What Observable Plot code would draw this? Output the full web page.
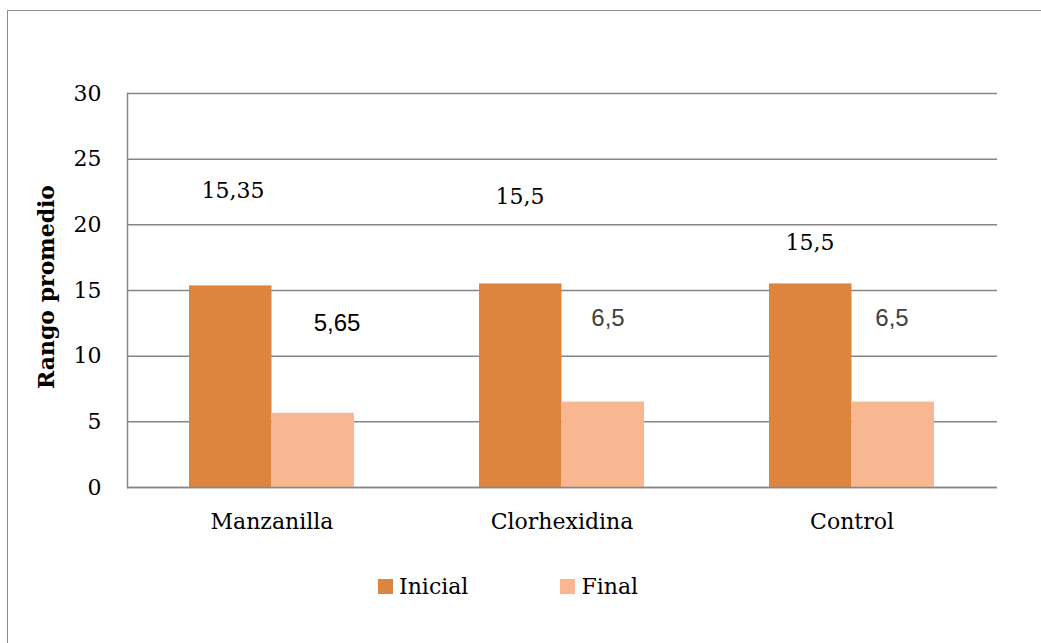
<!DOCTYPE html>
<html>
<head>
<meta charset="utf-8">
<script src="https://cdn.jsdelivr.net/npm/d3@7"></script>
<script src="https://cdn.jsdelivr.net/npm/@observablehq/plot@0.6"></script>
<style>
  html, body { margin: 0; padding: 0; background: #fff; }
  #wrap { position: relative; width: 1041px; height: 643px; overflow: hidden; }
  #border { position: absolute; left: 7px; top: 10px; width: 1100px; height: 700px;
            border: 1.5px solid #8c8c8c; box-sizing: border-box; }
  #chart { position: absolute; left: 0; top: 0; }
  #ylabel { position: absolute; left: 46px; top: 287px; transform: translate(-50%, -50%) rotate(-90deg);
            font-family: "DejaVu Serif", serif; font-weight: bold; font-size: 22px; white-space: nowrap; color: #000; }
  #legend { position: absolute; left: 378px; top: 574px; display: flex; align-items: center;
            font-family: "DejaVu Serif", serif; font-size: 22px; color: #000; }
  #legend .item { display: flex; align-items: center; }
  #legend .sw { width: 15px; height: 15px; margin-right: 6px; }
</style>
</head>
<body>
<div id="wrap">
  <div id="border"></div>
  <div id="chart"></div>
  <div id="ylabel"></div>
  <div id="legend"></div>
</div>
<script>
// Mean rank per treatment group, before and after
const categories = ["Manzanilla", "Clorhexidina", "Control"];
const series = ["Inicial", "Final"];
const inicial = [15.35, 15.5, 15.5];
const final = [5.65, 6.5, 6.5];
const yTicks = [0, 5, 10, 15, 20, 25, 30];
const yTitle = "Rango promedio";

const colors = {Inicial: "#DD843F", Final: "#F8B691"};

const rows = [];
categories.forEach((c, i) => {
  rows.push({category: c, series: "Inicial", value: inicial[i]});
  rows.push({category: c, series: "Final", value: final[i]});
});

const fmt = v => String(v).replace(".", ",");

// where each value label sits (height in axis units, horizontal nudge in px)
const labelLayout = {
  "Manzanilla|Inicial": {y: 22.6, dx: -39},
  "Clorhexidina|Inicial": {y: 22.1, dx: -42},
  "Control|Inicial": {y: 18.6, dx: -42},
  "Manzanilla|Final": {y: 12.5, dx: 65},
  "Clorhexidina|Final": {y: 12.85, dx: 46},
  "Control|Final": {y: 12.85, dx: 40}
};
const lay = d => labelLayout[d.category + "|" + d.series];

const half = 82.5; // each bar takes half of the band
const serif = "DejaVu Serif";
const gray = "#868686";

const inicialRows = rows.filter(d => d.series === "Inicial");
const finalRows = rows.filter(d => d.series === "Final");

const chart = Plot.plot({
  width: 1041,
  height: 550,
  marginLeft: 127,
  marginRight: 44,
  marginTop: 93,
  marginBottom: 63,
  style: {fontFamily: serif, fontSize: "22px", background: "transparent", color: "#000"},
  x: {domain: categories, paddingInner: 0.431, paddingOuter: 0.2155},
  y: {domain: [0, 30]},
  marks: [
    Plot.gridY(yTicks, {stroke: gray, strokeOpacity: 1, strokeWidth: 1.5}),
    Plot.barY(inicialRows, {x: "category", y: "value", fill: colors.Inicial, insetRight: half}),
    Plot.barY(finalRows, {x: "category", y: "value", fill: colors.Final, insetLeft: half}),
    Plot.ruleY([0], {stroke: gray, strokeWidth: 1.5}),
    Plot.frame({anchor: "left", stroke: gray, strokeWidth: 1.5}),
    Plot.axisY(yTicks, {tickSize: 0, tickPadding: 26, fontSize: 22, fontFamily: serif, fill: "#000", label: null}),
    Plot.axisX({tickSize: 0, tickPadding: 26, fontSize: 22, fontFamily: serif, fill: "#000", label: null}),
    // value labels: initial values in serif, final values in sans
    ...inicialRows.map(d => Plot.text([d], {
      x: "category", y: () => lay(d).y, dx: lay(d).dx, text: r => fmt(r.value),
      fontFamily: serif, fontSize: 22, fill: "#000", lineAnchor: "middle"
    })),
    ...finalRows.map(d => Plot.text([d], {
      x: "category", y: () => lay(d).y, dx: lay(d).dx, text: r => fmt(r.value),
      fontFamily: "Liberation Sans", fontSize: 24,
      fill: d.category === "Manzanilla" ? "#000" : "#404040", lineAnchor: "middle"
    }))
  ]
});
document.getElementById("chart").appendChild(chart);

document.getElementById("ylabel").textContent = yTitle;

const legend = document.getElementById("legend");
series.forEach((s, i) => {
  const item = document.createElement("div");
  item.className = "item";
  if (i > 0) item.style.marginLeft = "92px";
  const sw = document.createElement("div");
  sw.className = "sw";
  sw.style.background = colors[s];
  const t = document.createElement("span");
  t.textContent = s;
  item.appendChild(sw);
  item.appendChild(t);
  legend.appendChild(item);
});
</script>
</body>
</html>
